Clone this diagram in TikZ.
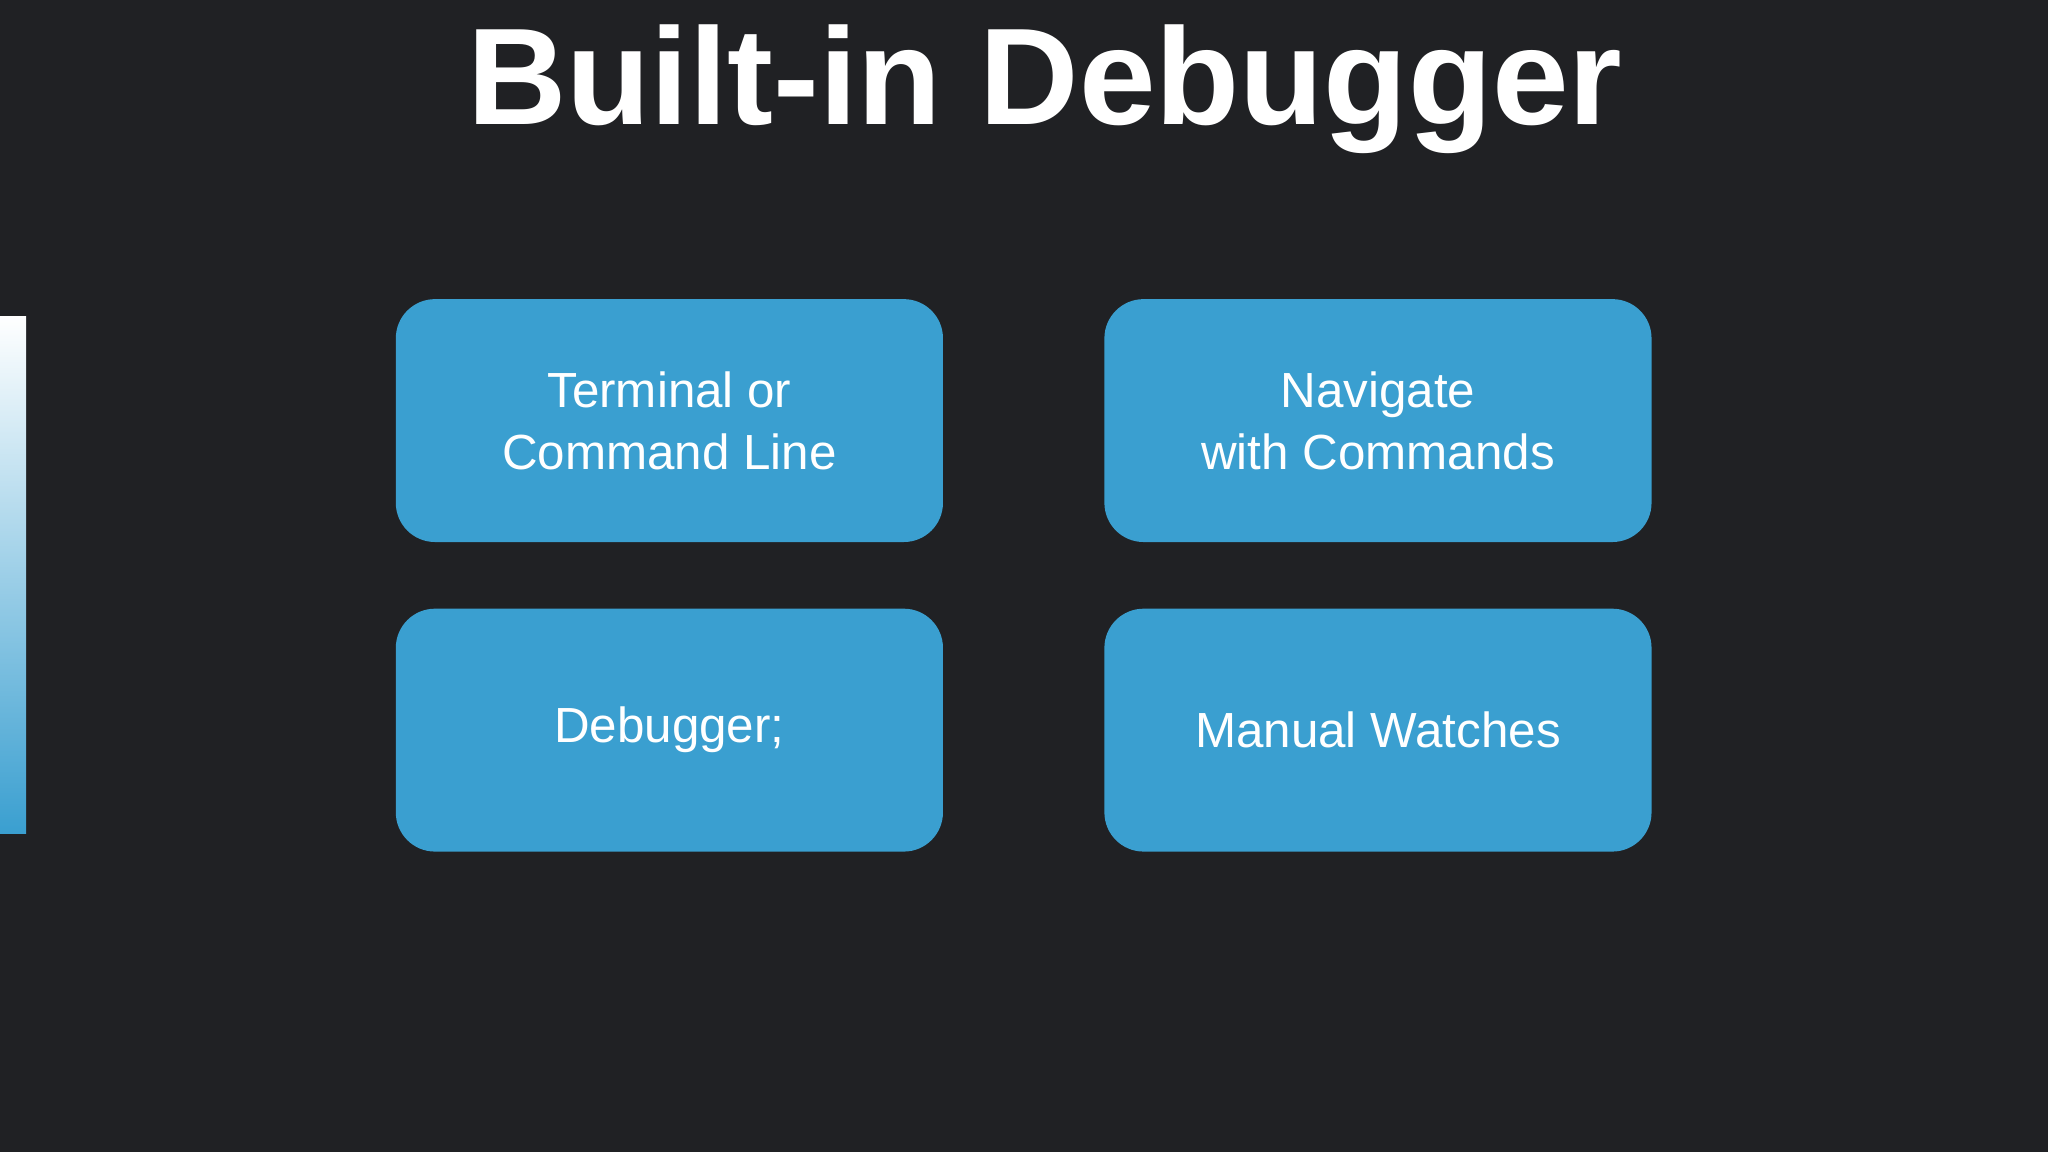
\documentclass[tikz,border=0pt]{standalone}
\usepackage{fontspec}
\setmainfont{Liberation Sans}
\definecolor{bg}{HTML}{202124}
\definecolor{boxc}{HTML}{3A9FD0}
\begin{document}
\begin{tikzpicture}[x=0.02cm,y=-0.02cm,
  card/.style={fill=boxc,rounded corners=0.6cm,minimum width=8.38cm,minimum height=3.72cm,text=white,align=center,font=\fontsize{21.5}{27}\selectfont,inner sep=0pt}]
\fill[bg] (0,0) rectangle (1568,882);
\useasboundingbox (0,0) rectangle (1568,882);
\shade[top color=white,bottom color=boxc] (0,242) rectangle (20,638);
\node[text=white,font=\fontsize{60}{70}\selectfont\bfseries] (title) at (800,68) {Built-in Debugger};
\node[card] (a) at (512.5,322) {Terminal or\\Command Line};
\node[card] (b) at (1055,322) {Navigate\\with Commands};
\node[card] (c) at (512.5,559) {Debugger;};
\node[card] (d) at (1055,559) {Manual Watches};
\end{tikzpicture}
\end{document}
